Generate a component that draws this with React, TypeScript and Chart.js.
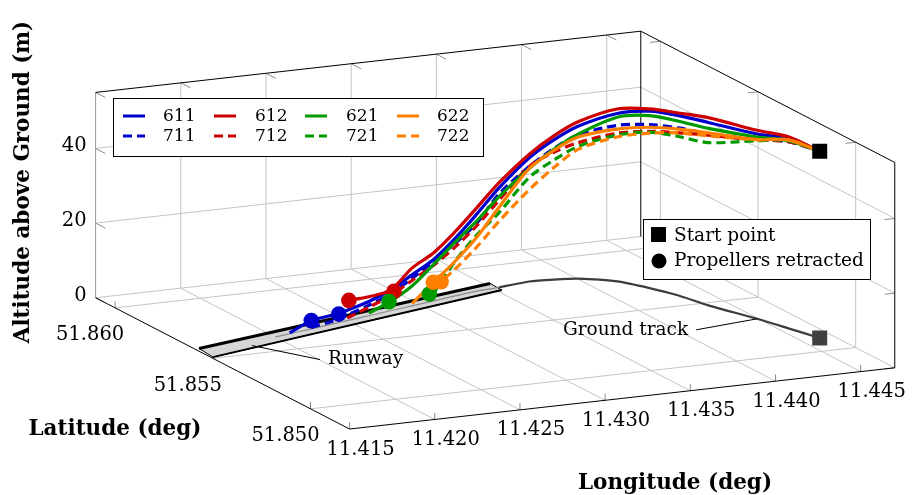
import React, { useEffect, useRef } from 'react';
import { Chart, registerables } from 'chart.js';

Chart.register(...registerables);

// ---------- axis ranges and ticks ----------
const lonRange = [11.415, 11.447];
const latRange = [51.848, 51.861];
const altRange = [0, 55];
const lonTicks = [11.415, 11.42, 11.425, 11.43, 11.435, 11.44, 11.445];
const lonTickLabels = ['11.415', '11.420', '11.425', '11.430', '11.435', '11.440', '11.445'];
const latTicks = [51.85, 51.855, 51.86];
const latTickLabels = ['51.850', '51.855', '51.860'];
const altTicks = [0, 20, 40];
const altTickLabels = ['0', '20', '40'];

// ---------- shared ground path (lon/lat nodes) ----------
const trackLon = [11.417, 11.4185, 11.42, 11.421, 11.4225, 11.424, 11.425, 11.4265, 11.428, 11.4295, 11.431, 11.4325,
  11.434, 11.4354, 11.43743, 11.43879, 11.44005, 11.44167, 11.44261, 11.44331, 11.44383, 11.44493, 11.44555, 11.44616];
const trackLat = [51.85576, 51.85596, 51.85616, 51.8563, 51.8565, 51.8567, 51.85684, 51.85704, 51.85725, 51.85745,
  51.85765, 51.85786, 51.85806, 51.85815, 51.85836, 51.85829, 51.85815, 51.85756, 51.85672, 51.85585, 51.85478,
  51.85324, 51.85218, 51.85111];

// ---------- altitudes per flight at the nodes (null = not flown) ----------
const n = null;
const alt611 = [n, n, n, 0.2, 2.2, 2.4, 2.8, 3.8, 5.5, 8.3, 11.1, 15.4, 20.6, 26.6, 33.1, 37.4, 40.8, 45.0, 47.4, 48.2, 49.0, 49.5, 50.8, 50.0];
const alt711 = [n, n, n, n, 0.4, 0.8, 1.5, 2.8, 4.5, 7.3, 10.6, 14.1, 18.2, 25.0, 30.8, 35.1, 38.5, 41.8, 43.8, 44.9, 46.0, 48.0, 50.0, 50.0];
const alt612 = [n, n, n, n, n, n, 5.4, 5.1, 5.5, 10.1, 12.9, 17.2, 22.3, 28.0, 34.1, 38.5, 42.0, 46.2, 48.0, 48.9, 50.3, 50.5, 51.3, 50.0];
const alt712 = [n, n, n, n, n, n, 0.7, 2.3, 4.0, 6.8, 9.6, 13.1, 17.5, 23.3, 30.8, 34.1, 36.4, 39.7, 42.0, 43.6, 45.6, 47.9, 50.0, 50.0];
const alt621 = [n, n, n, n, n, n, n, 0.7, 2.5, 5.3, 9.8, 14.4, 18.8, 24.3, 30.3, 34.9, 38.7, 44.0, 46.2, 46.7, 47.4, 48.7, 50.3, 50.0];
const alt721 = [n, n, n, n, n, n, n, n, n, n, 2.0, 9.3, 15.0, 20.0, 27.9, 32.0, 35.4, 39.2, 41.8, 42.6, 43.6, 47.7, 50.3, 50.0];
const alt622 = [n, n, n, n, n, n, n, n, n, 0.6, 5.0, 9.3, 14.4, 21.4, 30.3, 34.6, 37.9, 40.8, 43.1, 44.6, 46.2, 48.0, 50.5, 50.0];
const alt722 = [n, n, n, n, n, n, n, n, n, n, 3.5, 7.2, 11.8, 17.7, 24.6, 30.0, 34.6, 38.7, 41.5, 43.6, 45.4, 48.0, 50.5, 50.0];

const flightNames = ['611', '711', '612', '712', '621', '721', '622', '722'];
const flightAlts = [alt611, alt711, alt612, alt712, alt621, alt721, alt622, alt722];
const flightColors = ['#0000cc', '#0000cc', '#cc0000', '#cc0000', '#009900', '#009900', '#ff8000', '#ff8000'];
const flightDashed = [false, true, false, true, false, true, false, true];

// ---------- propellers retracted points ----------
const retractLon = [11.4225, 11.4244, 11.42512, 11.42825, 11.42791, 11.4307, 11.43098, 11.43152];
const retractLat = [51.8565, 51.85675, 51.85686, 51.85728, 51.85724, 51.85761, 51.85765, 51.85772];
const retractAlt = [2.2, 2.3, 5.3, 5.0, 2.5, 2.1, 5.0, 4.7];

// ---------- start point ----------
const startLon = [11.44616];
const startLat = [51.85111];
const startAlt = [50];

// ---------- runway outline ----------
const runwayLon = [11.41526, 11.43536, 11.4353, 11.41512];
const runwayLat = [51.85593, 51.85856, 51.85791, 51.8551];

// ---------- annotations ----------
const annotText = ['Runway', 'Ground track'];
const annotLon = [11.41808, 11.44493];
const annotLat = [51.85568, 51.85324];

// ---------- projection (view) ----------
const ORIGIN = { x: 87, y: 300 }; // pixel of (lonMin, latMax, 0)
const LON_STEP = { x: 87.2, y: -10 }; // per +0.005 deg lon
const LAT_STEP = { x: 100, y: 52.75 }; // per -0.005 deg lat
const ALT_PX = 3.9;

function proj(lon: number, lat: number, alt: number) {
  const a = (lon - lonRange[0]) / 0.005;
  const b = (latRange[1] - lat) / 0.005;
  return {
    x: ORIGIN.x + a * LON_STEP.x + b * LAT_STEP.x,
    y: ORIGIN.y + a * LON_STEP.y + b * LAT_STEP.y - alt * ALT_PX,
  };
}

function line3(pts: number[][], color: string, width: number, order: number, extra: any = {}) {
  return {
    data: pts.map((p) => proj(p[0], p[1], p[2])),
    showLine: true,
    borderColor: color,
    backgroundColor: color,
    borderWidth: width,
    pointRadius: 0,
    pointHoverRadius: 0,
    tension: 0,
    fill: false,
    order,
    ...extra,
  };
}

function buildDatasets() {
  const ds: any[] = [];
  const [lo0, lo1] = lonRange;
  const [la0, la1] = latRange;
  const zTop = altRange[1];
  const GRID = '#c4c4c4';

  // floor grid
  lonTicks.forEach((lo) => { if (lo > lo0) ds.push(line3([[lo, la0, 0], [lo, la1, 0]], GRID, 1, 100)); });
  latTicks.forEach((la) => ds.push(line3([[lo0, la, 0], [lo1, la, 0]], GRID, 1, 100)));
  ds.push(line3([[lo0, la1, 0], [lo1, la1, 0], [lo1, la0, 0]], GRID, 1, 100));
  // back wall (lat = max)
  lonTicks.forEach((lo) => { if (lo > lo0) ds.push(line3([[lo, la1, 0], [lo, la1, zTop]], GRID, 1, 100)); });
  altTicks.forEach((z) => { if (z > 0) ds.push(line3([[lo0, la1, z], [lo1, la1, z]], GRID, 1, 100)); });
  // right wall (lon = max)
  latTicks.forEach((la) => ds.push(line3([[lo1, la, 0], [lo1, la, zTop]], GRID, 1, 100)));
  altTicks.forEach((z) => { if (z > 0) ds.push(line3([[lo1, la1, z], [lo1, la0, z]], GRID, 1, 100)); });

  // tick marks
  const TK = '#8c8c8c';
  lonTicks.forEach((lo) => {
    ds.push(line3([[lo, la0, 0], [lo, la0, 1.8]], TK, 1, 95));
    ds.push(line3([[lo, la1, zTop], [lo, la1 - 0.0005, zTop]], TK, 1, 95));
  });
  latTicks.forEach((la) => {
    ds.push(line3([[lo0, la, 0], [lo0, la, 1.8]], TK, 1, 95));
    ds.push(line3([[lo1, la, zTop], [lo1 - 0.0006, la, zTop]], TK, 1, 95));
  });
  altTicks.forEach((z) => {
    ds.push(line3([[lo0, la1, z], [lo0, la1 - 0.0005, z]], TK, 1, 95));
    ds.push(line3([[lo1, la0, z], [lo1 - 0.0006, la0, z]], TK, 1, 95));
  });

  // box edges
  ds.push(line3([[lo0, la1, 0], [lo0, la1, zTop]], '#9a9a9a', 1, 92));
  ds.push(line3([[lo0, la1, 0], [lo0, la0, 0], [lo1, la0, 0], [lo1, la0, zTop], [lo1, la1, zTop], [lo0, la1, zTop]], '#000', 1, 90));
  ds.push(line3([[lo1, la1, 0], [lo1, la1, zTop]], '#000', 1, 90));

  // runway
  const rw = runwayLon.map((lo, i) => [lo, runwayLat[i], 0]);
  ds.push(line3([...rw, rw[0]], '#000', 1, 80, { fill: 'shape', backgroundColor: '#d6d6d6' }));
  ds.push(line3([rw[0], rw[1]], '#000', 3, 79));
  ds.push(line3([rw[3], rw[2]], '#000', 2, 79));

  // ground track
  const gIn: number[][] = [];
  const gOut: number[][] = [];
  trackLon.forEach((lo, i) => {
    if (i >= 2 && i <= 13) gIn.push([lo, trackLat[i], 0]);
    if (i >= 13) gOut.push([lo, trackLat[i], 0]);
  });
  ds.push(line3(gIn, '#8a8a8a', 1.2, 75, { tension: 0.2 }));
  ds.push(line3(gOut, '#3c3c3c', 2.2, 74, { tension: 0.2 }));

  // trajectories
  flightAlts.forEach((alts, f) => {
    const pts: number[][] = [];
    alts.forEach((a, i) => { if (a !== null) pts.push([trackLon[i], trackLat[i], a as number]); });
    ds.push(line3(pts, flightColors[f], 3.2, 60 - f, {
      tension: 0.3,
      borderDash: flightDashed[f] ? [9, 5] : [],
      label: flightNames[f],
    }));
  });

  // propellers retracted
  ds.push({
    data: retractLon.map((lo, i) => proj(lo, retractLat[i], retractAlt[i])),
    showLine: false,
    pointRadius: 7.8,
    pointHoverRadius: 7.8,
    pointBorderWidth: 0,
    pointBackgroundColor: flightColors,
    pointBorderColor: flightColors,
    order: 10,
  });

  // start points
  ds.push({
    data: startLon.map((lo, i) => proj(lo, startLat[i], 0)),
    showLine: false, pointStyle: 'rect', pointRadius: 10.6, pointHoverRadius: 10.6,
    pointBackgroundColor: '#404040', pointBorderColor: '#404040', pointBorderWidth: 0, order: 6,
  });
  ds.push({
    data: startLon.map((lo, i) => proj(lo, startLat[i], startAlt[i])),
    showLine: false, pointStyle: 'rect', pointRadius: 10.6, pointHoverRadius: 10.6,
    pointBackgroundColor: '#000', pointBorderColor: '#000', pointBorderWidth: 0, order: 5,
  });
  return ds;
}

const overlayPlugin = {
  id: 'overlay3d',
  afterDatasetsDraw(chart: any) {
    const ctx: CanvasRenderingContext2D = chart.ctx;
    const sx = chart.scales.x;
    const sy = chart.scales.y;
    const P = (lon: number, lat: number, alt: number) => {
      const p = proj(lon, lat, alt);
      return { x: sx.getPixelForValue(p.x), y: sy.getPixelForValue(p.y) };
    };
    ctx.save();
    ctx.fillStyle = '#000';
    ctx.textBaseline = 'middle';
    ctx.font = '19.5px "DejaVu Serif"';

    ctx.textAlign = 'right';
    altTicks.forEach((z, i) => {
      const p = P(lonRange[0], latRange[1], z);
      ctx.fillText(altTickLabels[i], p.x - 9, p.y - 2);
    });
    ctx.textAlign = 'center';
    latTicks.forEach((la, i) => {
      const p = P(lonRange[0], la, 0);
      ctx.fillText(latTickLabels[i], p.x - 25, p.y + 27.5);
    });
    lonTicks.forEach((lo, i) => {
      const p = P(lo, latRange[0], 0);
      ctx.fillText(lonTickLabels[i], p.x + 11, p.y + 20.5);
    });

    // axis titles
    ctx.font = 'bold 21.5px "DejaVu Serif"';
    ctx.fillText('Latitude (deg)', 115, 429);
    ctx.fillText('Longitude (deg)', 675, 483);
    ctx.save();
    ctx.translate(23, 182);
    ctx.rotate(-Math.PI / 2);
    ctx.fillText('Altitude above Ground (m)', 0, 0);
    ctx.restore();

    // annotations
    ctx.font = '18.5px "DejaVu Serif"';
    ctx.strokeStyle = '#000';
    ctx.lineWidth = 1;
    const offs = [{ dx: 68, dy: 14, side: 1 }, { dx: -61, dy: 11, side: -1 }];
    annotText.forEach((t, i) => {
      const a = P(annotLon[i], annotLat[i], 0);
      const e = { x: a.x + offs[i].dx, y: a.y + offs[i].dy };
      ctx.beginPath();
      ctx.moveTo(a.x, a.y);
      ctx.lineTo(e.x, e.y);
      ctx.stroke();
      ctx.textAlign = offs[i].side > 0 ? 'left' : 'right';
      ctx.fillText(t, e.x + offs[i].side * 8, e.y);
    });

    // series legend
    ctx.fillStyle = '#fff';
    ctx.fillRect(113.5, 98.5, 370, 58);
    ctx.strokeStyle = '#000';
    ctx.lineWidth = 1;
    ctx.strokeRect(113.5, 98.5, 370, 58);
    const colLine = [123, 214, 305, 397];
    const colText = [163, 255, 346, 437];
    const rowY = [116, 136];
    ctx.font = '17px "DejaVu Serif"';
    ctx.textAlign = 'left';
    flightNames.forEach((name, f) => {
      const col = Math.floor(f / 2);
      const row = f % 2;
      ctx.strokeStyle = flightColors[f];
      ctx.lineWidth = 3;
      ctx.setLineDash(flightDashed[f] ? [9, 5] : []);
      ctx.beginPath();
      ctx.moveTo(colLine[col], rowY[row]);
      ctx.lineTo(colLine[col] + 22, rowY[row]);
      ctx.stroke();
      ctx.setLineDash([]);
      ctx.fillStyle = '#000';
      ctx.fillText(name, colText[col], rowY[row] + 1);
    });

    // marker legend
    ctx.fillStyle = '#fff';
    ctx.fillRect(643.5, 219.5, 227, 60);
    ctx.strokeStyle = '#000';
    ctx.lineWidth = 1;
    ctx.strokeRect(643.5, 219.5, 227, 60);
    ctx.fillStyle = '#000';
    ctx.fillRect(651, 227, 15, 15);
    ctx.beginPath();
    ctx.arc(659, 261, 7.5, 0, Math.PI * 2);
    ctx.fill();
    ctx.font = '18.5px "DejaVu Serif"';
    ctx.fillText('Start point', 674, 236);
    ctx.fillText('Propellers retracted', 674, 261);

    ctx.restore();
  },
};

export default function App() {
  const ref = useRef<HTMLCanvasElement | null>(null);
  useEffect(() => {
    document.body.style.margin = '0';
    const canvas = ref.current;
    if (!canvas) return;
    const chart = new Chart(canvas, {
      type: 'scatter',
      data: { datasets: buildDatasets() },
      options: {
        animation: false,
        responsive: false,
        devicePixelRatio: 1,
        events: [],
        layout: { padding: 0 },
        scales: {
          x: { type: 'linear', min: 0, max: 918, display: false },
          y: { type: 'linear', min: 0, max: 495, reverse: true, display: false },
        },
        plugins: { legend: { display: false }, tooltip: { enabled: false } },
      } as any,
      plugins: [overlayPlugin],
    } as any);
    return () => chart.destroy();
  }, []);
  return (
    <div style={{ position: 'fixed', left: 0, top: 0, width: 918, height: 495, background: '#fff' }}>
      <canvas ref={ref} width={918} height={495} style={{ display: 'block', width: 918, height: 495 }} />
    </div>
  );
}
